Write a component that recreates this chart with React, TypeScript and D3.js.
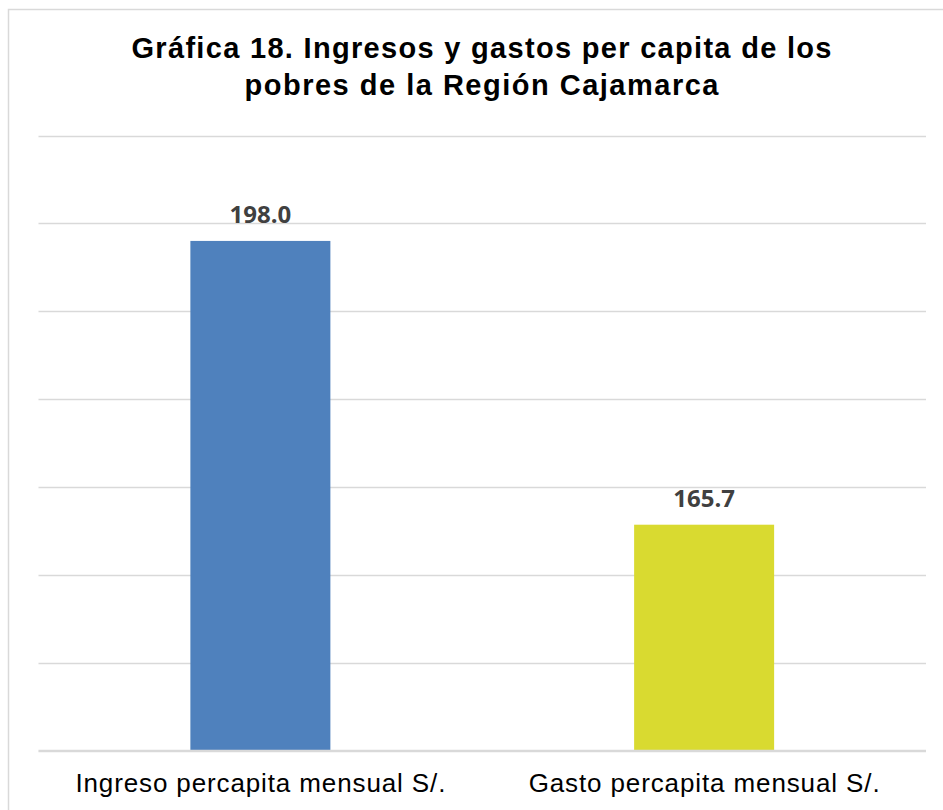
import React from "react";
import * as d3 from "d3";

const categories = ["Ingreso percapita mensual S/.", "Gasto percapita mensual S/."];
const values = [198.0, 165.7];
const barColors = ["#4F81BD", "#D9DA30"];
const yTicks = [140, 150, 160, 170, 180, 190, 200, 210];
const titleLines = [
  "Gráfica 18. Ingresos y gastos per capita de los",
  "pobres de la Región Cajamarca",
];
const titleWidths = [700, 474];
const categoryWidths = [370, 351];

const W = 943;
const H = 810;
const plotLeft = 38.5;
const plotRight = 926;
const plotTop = 135.5;
const plotBottom = 750.5;

export default function App() {
  const x = d3
    .scaleBand<string>()
    .domain(categories)
    .range([plotLeft, plotRight])
    .paddingInner(0.6845)
    .paddingOuter(0.34225);
  const y = d3.scaleLinear().domain([140, 210]).range([plotBottom, plotTop]);

  return (
    <svg
      width={W}
      height={H}
      style={{ position: "absolute", left: 0, top: 0, background: "#fff" }}
    >
      <rect x={0} y={0} width={W} height={H} fill="#fff" />
      <rect
        x={8.5}
        y={9.5}
        width={980}
        height={850}
        fill="none"
        stroke="#D9D9D9"
        strokeWidth={1.5}
      />
      {titleLines.map((t, i) => (
        <text
          key={i}
          x={481.5}
          y={57.5 + i * 37.5}
          textAnchor="middle"
          fontFamily="'Liberation Sans', Arial, sans-serif"
          fontWeight="bold"
          fontSize={29}
          textLength={titleWidths[i]}
          lengthAdjust="spacing"
          fill="#000"
        >
          {t}
        </text>
      ))}
      {yTicks.map((t) => (
        <line
          key={t}
          x1={plotLeft}
          x2={plotRight}
          y1={Math.round(y(t)) + 0.5}
          y2={Math.round(y(t)) + 0.5}
          stroke="#D9D9D9"
          strokeWidth={1.5}
        />
      ))}
      {categories.map((c, i) => (
        <rect
          key={c}
          x={x(c)}
          y={y(values[i])}
          width={x.bandwidth()}
          height={y(140) - y(values[i])}
          fill={barColors[i]}
        />
      ))}
      <line
        x1={plotLeft}
        x2={plotRight}
        y1={plotBottom}
        y2={plotBottom}
        stroke="#D9D9D9"
        strokeWidth={1.5}
      />
      {categories.map((c, i) => (
        <text
          key={"v" + c}
          x={(x(c) as number) + x.bandwidth() / 2}
          y={y(values[i]) - 18}
          textAnchor="middle"
          fontFamily="'Open Sans', sans-serif"
          fontWeight="bold"
          fontSize={24}
          fill="#404040"
        >
          {values[i].toFixed(1)}
        </text>
      ))}
      {categories.map((c, i) => (
        <text
          key={"c" + c}
          x={(x(c) as number) + x.bandwidth() / 2}
          y={792}
          textAnchor="middle"
          fontFamily="'Liberation Sans', Arial, sans-serif"
          fontSize={26}
          textLength={categoryWidths[i]}
          lengthAdjust="spacing"
          fill="#000"
        >
          {c}
        </text>
      ))}
    </svg>
  );
}
